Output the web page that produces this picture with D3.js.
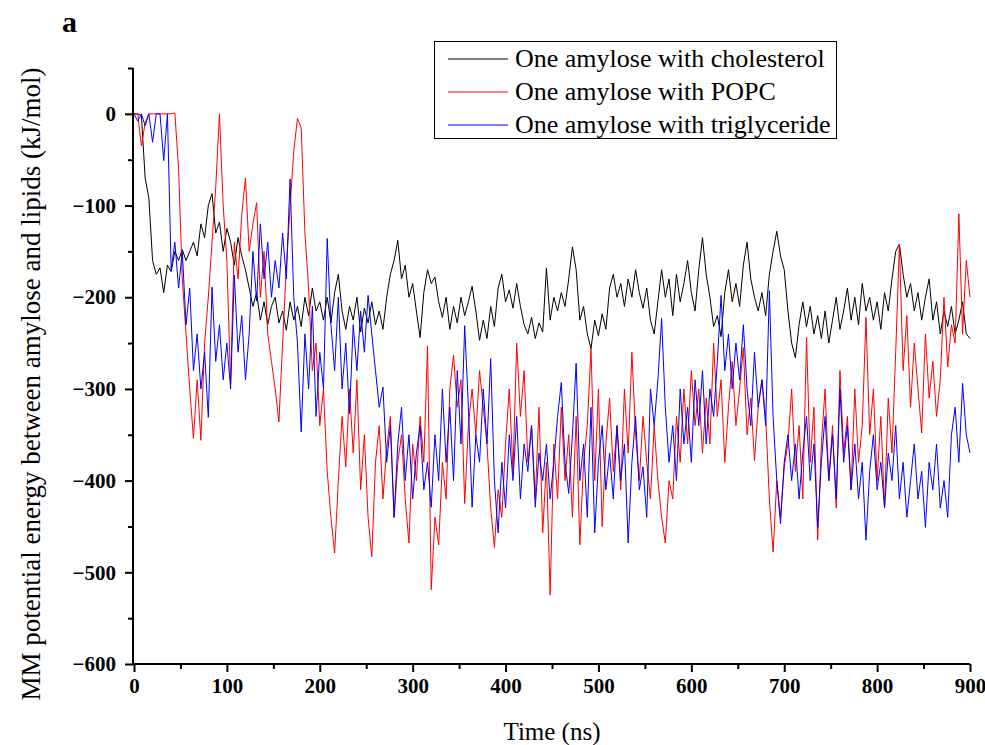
<!DOCTYPE html>
<html>
  <head>
    <meta charset="utf-8"/>
    <style>
    body {
      margin: 0;
      background: #fff;
    }
    text {
      font-family: "Liberation Serif", "Times New Roman", serif;
    }
    </style>
  </head>
  <body>
    <script src="https://d3js.org/d3.v7.min.js"></script>
    <script>
    // sampled every 4 ns
    var timeStep = 4;

    var cholesterol = [
      0, 0, -2, -70, -92, -160, -175, -168, -195, -165,
      -172, -150, -160, -148, -160, -150, -140, -155, -120, -135,
      -100, -87, -130, -118, -150, -125, -140, -165, -135, -155,
      -170, -190, -210, -195, -225, -205, -230, -210, -200, -228,
      -215, -236, -205, -225, -210, -232, -200, -220, -190, -215,
      -205, -225, -200, -228, -195, -175, -215, -235, -210, -225,
      -200, -238, -212, -228, -205, -230, -215, -235, -200, -175,
      -160, -138, -180, -165, -200, -185, -215, -244, -195, -170,
      -185, -178, -205, -222, -200, -235, -210, -228, -200, -220,
      -205, -188, -215, -247, -225, -245, -210, -232, -190, -175,
      -205, -192, -212, -185, -210, -230, -240, -222, -245, -228,
      -238, -168, -225, -200, -215, -195, -210, -180, -145, -170,
      -225, -210, -240, -256, -225, -242, -218, -235, -190, -175,
      -200, -185, -210, -180, -200, -170, -195, -212, -190, -225,
      -240, -205, -170, -200, -180, -220, -175, -205, -185, -160,
      -195, -215, -170, -135, -175, -200, -232, -220, -243, -195,
      -170, -205, -185, -210, -165, -140, -180, -200, -215, -195,
      -220, -175, -150, -128, -155, -170, -215, -250, -266, -230,
      -205, -232, -210, -240, -220, -245, -215, -250, -225, -200,
      -235, -215, -190, -225, -200, -230, -185, -215, -200, -225,
      -205, -235, -195, -215, -180, -150, -142, -175, -200, -185,
      -215, -195, -225, -200, -180, -225, -205, -240, -215, -232,
      -210, -240, -225, -205, -240, -245
    ];

    var popc = [
      0, 0, -35, -10, 0, 0, 0, 0, 0, 0,
      0, 1, -60, -180, -240, -300, -354, -290, -356, -250,
      -200, -140, -80, 0, -100, -160, -294, -140, -180, -110,
      -70, -150, -120, -97, -200, -150, -240, -270, -300, -336,
      -250, -167, -102, -40, -5, -15, -130, -190, -280, -250,
      -340, -300, -390, -440, -479, -400, -330, -385, -300, -370,
      -290, -410, -350, -440, -483, -380, -340, -420, -365, -330,
      -440, -380, -350, -420, -468, -360, -400, -330, -380, -253,
      -519, -440, -470, -380, -420, -300, -263, -320, -290, -425,
      -340, -300, -350, -280, -320, -360, -430, -473, -410, -440,
      -360, -300, -390, -250, -330, -280, -380, -340, -420, -320,
      -457, -380, -525, -360, -420, -320, -400, -350, -440, -330,
      -470, -380, -340, -256, -400, -300, -450, -360, -310, -390,
      -340, -410, -300, -370, -260, -350, -400, -330, -380, -420,
      -340, -400, -440, -468, -400, -420, -330, -380, -300, -360,
      -280, -340, -300, -370, -310, -360, -250, -330, -290, -380,
      -320, -270, -340, -300, -255, -350, -310, -378, -320, -290,
      -330, -420, -478, -400, -440, -385, -360, -300, -390, -340,
      -420, -244, -380, -320, -465, -360, -300, -400, -340, -430,
      -280, -370, -330, -410, -300, -380, -340, -222, -350, -300,
      -400, -330, -429, -310, -370, -260, -142, -280, -220, -320,
      -250, -300, -348, -240, -310, -270, -330, -290, -200, -276,
      -230, -250, -109, -240, -160, -200
    ];

    var triglyceride = [
      0, -8, 0, -13, 0, -31, 0, 0, -51, 0,
      -170, -140, -190, -150, -230, -190, -280, -240, -300, -260,
      -331, -189, -270, -230, -290, -250, -300, -176, -260, -220,
      -290, -240, -150, -204, -120, -180, -140, -200, -160, -190,
      -130, -180, -71, -200, -250, -347, -240, -300, -210, -330,
      -260, -300, -136, -230, -280, -200, -300, -250, -327, -230,
      -280, -215, -260, -198, -240, -280, -320, -298, -380, -340,
      -440, -360, -320, -400, -350, -420, -370, -340, -410, -380,
      -429, -350, -400, -300, -380, -320, -400, -280, -360, -231,
      -320, -429, -350, -380, -300, -360, -267, -400, -457, -380,
      -430, -350, -400, -330, -420, -360, -390, -340, -429, -370,
      -400, -360, -420, -380, -330, -293, -380, -414, -350, -272,
      -400, -360, -440, -320, -457, -380, -340, -410, -370, -420,
      -340, -400, -360, -468, -380, -330, -410, -385, -440, -300,
      -340, -290, -223, -320, -380, -340, -400, -300, -360, -320,
      -380, -290, -340, -280, -360, -300, -330, -270, -198, -280,
      -240, -300, -250, -290, -230, -300, -340, -260, -320, -290,
      -340, -193, -330, -400, -447, -380, -350, -400, -360, -420,
      -370, -330, -400, -360, -451, -380, -330, -400, -350, -420,
      -300, -380, -340, -410, -360, -420, -380, -465, -390, -350,
      -410, -380, -430, -370, -400, -340, -420, -380, -440, -400,
      -360, -420, -390, -451, -380, -410, -360, -430, -400, -440,
      -350, -320, -380, -294, -350, -370
    ];

    var seriesNames = ["One amylose with cholesterol", "One amylose with POPC", "One amylose with triglyceride"];
    var seriesColors = ["#000000", "#ff0000", "#0000ff"];

    var xTicks = [0, 100, 200, 300, 400, 500, 600, 700, 800, 900];
    var xMinorTicks = [50, 150, 250, 350, 450, 550, 650, 750, 850];
    var yTicks = [-600, -500, -400, -300, -200, -100, 0];
    var yMinorTicks = [-550, -450, -350, -250, -150, -50, 50];

    var width = 985, height = 745;

    var x = d3.scaleLinear().domain([0, 900]).range([134, 970]);
    var y = d3.scaleLinear().domain([-600, 50]).range([664, 68]);

    var svg = d3.select("body").append("svg")
        .attr("width", width)
        .attr("height", height);

    var line = d3.line()
        .x(function(d, i) { return x(i * timeStep); })
        .y(function(d) { return y(d); });

    var plot = svg.append("g");

    [cholesterol, popc, triglyceride].forEach(function(data, k){
      plot.append("path")
          .datum(data)
          .attr("d", line)
          .attr("fill", "none")
          .attr("stroke", seriesColors[k])
          .attr("stroke-width", 1)
          .attr("stroke-linejoin", "round");
    });

    // axes
    function styleAxis(g){
      g.select(".domain").remove();
      g.selectAll(".tick line").attr("stroke", "#000").attr("stroke-width", 2);
      g.selectAll(".tick text")
          .attr("fill", "#000")
          .style("font-family", "'Liberation Serif', 'Times New Roman', serif")
          .style("font-weight", "bold")
          .style("font-size", "21px");
    }

    svg.append("g")
        .attr("transform", "translate(0,664)")
        .call(d3.axisBottom(x).tickValues(xMinorTicks).tickSize(5).tickFormat(""))
        .call(styleAxis);

    svg.append("g")
        .attr("transform", "translate(0,664)")
        .call(d3.axisBottom(x).tickValues(xTicks).tickSize(8).tickPadding(6).tickFormat(d3.format("d")))
        .call(styleAxis);

    svg.append("g")
        .attr("transform", "translate(133,0)")
        .call(d3.axisLeft(y).tickValues(yMinorTicks).tickSize(5).tickFormat(""))
        .call(styleAxis);

    svg.append("g")
        .attr("transform", "translate(133,0)")
        .call(d3.axisLeft(y).tickValues(yTicks).tickSize(8).tickPadding(9).tickFormat(d3.format("d")))
        .call(styleAxis);

    svg.append("line")
        .attr("x1", 133).attr("x2", 133)
        .attr("y1", y(50)).attr("y2", y(-600) + 1)
        .attr("stroke", "#000").attr("stroke-width", 2);

    svg.append("line")
        .attr("x1", 132).attr("x2", x(900))
        .attr("y1", 664).attr("y2", 664)
        .attr("stroke", "#000").attr("stroke-width", 2);

    // titles
    svg.append("text")
        .attr("x", x(450))
        .attr("y", 740)
        .attr("text-anchor", "middle")
        .style("font-size", "25px")
        .text("Time (ns)");

    svg.append("text")
        .attr("transform", "translate(40," + 384 + ") rotate(-90)")
        .attr("text-anchor", "middle")
        .style("font-size", "27px")
        .text("MM potential energy between amylose and lipids (kJ/mol)");

    svg.append("text")
        .attr("x", 62)
        .attr("y", 32)
        .style("font-size", "30px")
        .style("font-weight", "bold")
        .text("a");

    // legend
    var legend = svg.append("g");

    legend.append("rect")
        .attr("x", 434.5).attr("y", 41.5)
        .attr("width", 402).attr("height", 97)
        .attr("fill", "#fff")
        .attr("stroke", "#000")
        .attr("stroke-width", 1);

    seriesNames.forEach(function(name, k){
      var ly = 59 + k * 33;
      legend.append("line")
          .attr("x1", 448).attr("x2", 508)
          .attr("y1", ly).attr("y2", ly)
          .attr("stroke", seriesColors[k])
          .attr("stroke-width", 1);
      legend.append("text")
          .attr("x", 515)
          .attr("y", ly + 8)
          .style("font-size", "26px")
          .text(name);
    });

    </script>
  </body>
</html>
